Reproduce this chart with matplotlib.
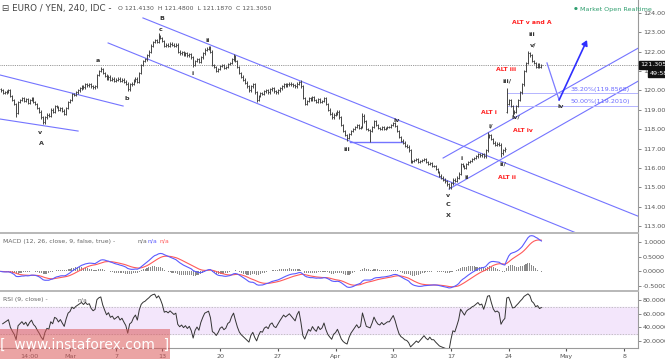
import numpy as np
import matplotlib
matplotlib.use("Agg")
import matplotlib.pyplot as plt
from matplotlib.patches import Rectangle, FancyArrowPatch
import matplotlib.transforms as mtransforms

# ---------------- data (4H EUR/JPY closes) ----------------
closes = [
    120.0, 119.85, 119.9, 119.95, 120.0, 119.7, 119.5, 119.3, 118.85, 119.4,
    119.5, 119.6, 119.45, 119.55, 119.35, 119.5, 119.6, 119.4, 119.3, 119.1,
    118.9, 118.6, 118.35, 118.6, 118.75, 118.7, 119.0, 118.9, 119.2, 119.15,
    119.0, 119.1, 118.95, 118.8, 119.1, 119.4, 119.5, 119.8, 119.75, 119.9,
    120.0, 120.1, 120.2, 120.15, 120.3, 120.25, 120.3, 120.2, 120.15, 120.2,
    120.8, 121.0, 121.1, 120.9, 120.75, 120.6, 120.7, 120.55, 120.6, 120.5,
    120.55, 120.6, 120.5, 120.55, 120.45, 120.35, 120.05, 120.3, 120.35, 120.5,
    120.6, 120.45, 120.9, 121.3, 121.5, 121.6, 121.8, 122.0, 122.3, 122.5,
    122.6, 122.5, 122.8, 122.7, 122.55, 122.3, 122.35, 122.3, 122.4, 122.35,
    122.3, 122.35, 122.0, 121.9, 121.95, 121.85, 121.9, 121.8, 121.85, 121.7,
    121.3, 121.5, 121.6, 121.45, 121.7, 121.9, 122.1, 122.15, 122.2, 122.0,
    121.3, 121.2, 121.0, 121.1, 121.25, 121.3, 121.15, 121.2, 121.35, 121.4,
    121.6, 121.75, 121.5, 121.2, 120.9, 120.7, 120.55, 120.4, 120.2, 120.0,
    120.2, 120.3, 119.9, 119.5, 119.7, 119.85, 119.8, 119.95, 120.0, 119.9,
    120.05, 120.1, 119.95, 119.9, 120.0, 120.1, 120.2, 120.3, 120.25, 120.3,
    120.35, 120.3, 120.25, 120.2, 120.35, 120.45, 120.2, 119.6, 119.3, 119.45,
    119.6, 119.5, 119.65, 119.5, 119.4, 119.55, 119.4, 119.45, 119.6, 119.3,
    119.0, 118.8, 118.6, 118.75, 118.8, 118.9, 118.6, 118.2, 117.9, 117.7,
    117.55, 117.75, 117.9, 118.0, 118.1, 118.2, 118.05, 118.1, 118.7, 118.4,
    118.0, 117.95, 117.9, 118.1, 118.4, 118.2, 118.05, 118.0, 118.1, 118.0,
    118.05, 118.1, 118.1, 118.2, 118.3, 118.15, 117.9, 117.6, 117.4, 117.3,
    117.15, 117.1, 116.9, 116.3, 116.35, 116.4, 116.45, 116.3, 116.35, 116.4,
    116.45, 116.3, 116.2, 116.25, 116.1, 116.1, 115.95, 115.8, 115.6, 115.5,
    115.4, 115.3, 115.15, 115.0, 115.2, 115.4, 115.35, 115.5, 115.7, 116.2,
    116.1, 116.0, 116.2, 116.3, 116.35, 116.45, 116.5, 116.6, 116.7, 116.65,
    116.7, 116.6, 116.9, 117.6, 117.7, 117.5, 117.3, 117.2, 117.25, 117.2,
    116.75, 116.9, 117.0,
    119.3, 119.5, 119.2, 118.85, 118.9, 119.2, 119.5,
    119.9, 120.3, 121.0, 121.4, 121.9, 121.8, 121.5, 121.4, 121.2, 121.35, 121.2, 121.305,
]
first_open = 120.05
open_overrides = {263: 118.9}
high_overrides = {52: 121.2, 82: 122.95, 108: 122.3, 121: 121.85, 155: 120.5,
                  188: 118.85, 253: 117.85, 263: 120.1, 274: 122.05, 275: 122.0}
low_overrides = {8: 118.6, 22: 118.25, 66: 119.95, 100: 121.2, 133: 119.4,
                 180: 117.4, 192: 117.35, 233: 114.9, 260: 116.55, 266: 118.7}
wick = 0.065

tick_pos = [15, 36, 60, 84, 114, 144, 174, 204, 234, 264, 294, 324]
tick_lbl = ["14:00", "Mar", "7", "13", "20", "27", "Apr", "10", "17", "24", "May", "8"]

price_ticks = [113, 114, 115, 116, 117, 118, 119, 120, 121, 122, 123, 124]
macd_ticks = [-0.5, 0.0, 0.5, 1.0]
rsi_ticks = [20, 40, 60, 80]

# trend lines (bar index, price)
blue_lines = [
    [(-0.4, 120.79), (63.6, 119.19)],
    [(-0.4, 118.52), (40.2, 117.90)],
    [(73.9, 123.73), (332.3, 113.47)],
    [(55.8, 122.44), (340.0, 111.00)],
    [(229.9, 116.51), (332.3, 122.23)],
    [(233.0, 114.91), (332.3, 120.53)],
]
hline_iii = [(181.5, 117.34), (209.1, 117.34)]
fib_levels = [119.8568, 119.2010]
fib_labels = ["38.20%(119.8568)", "50.00%(119.2010)"]
fib_start = 263.1
proj_path = [(283.9, 121.41), (290.2, 119.50), (304.7, 122.59)]

wave_labels = [
    ("B", 83.8, 123.68), ("c", 83.3, 123.11), ("a", 50.6, 121.56), ("b", 65.6, 119.60),
    ("ii", 107.7, 122.59), ("i", 99.9, 120.89), ("v", 20.4, 117.85), ("A", 20.9, 117.28),
    ("iii", 180.0, 116.97), ("iv", 205.9, 118.42), ("v", 232.5, 114.60), ("C", 232.5, 114.09),
    ("X", 232.5, 113.57), ("i", 239.7, 116.46), ("ii", 242.4, 115.48), ("i/", 254.8, 118.16),
    ("ii/", 261.0, 116.20), ("iii/", 263.1, 120.48), ("iv/", 267.8, 118.62),
    ("iii", 276.1, 122.90), ("v/", 276.6, 122.33), ("iv", 291.2, 119.14),
]
alt_labels = [
    ("ALT v and A", 276.1, 123.47), ("ALT iii", 262.6, 121.05), ("ALT i", 253.8, 118.88),
    ("ALT iv", 271.4, 117.95), ("ALT ii", 263.1, 115.48),
]
last_price = 121.305

# ---------------- derived OHLC ----------------
c = np.array(closes)
n = len(c)
idx = np.arange(n)
o = np.empty(n)
o[0] = first_open
o[1:] = c[:-1]
for k, v in open_overrides.items():
    o[k] = v
h = np.maximum(o, c) + wick
l = np.minimum(o, c) - wick
for k, v in high_overrides.items():
    h[k] = v
for k, v in low_overrides.items():
    l[k] = v

def ema(x, span):
    a = 2.0 / (span + 1)
    out = np.empty_like(x)
    out[0] = x[0]
    for t in range(1, len(x)):
        out[t] = a * x[t] + (1 - a) * out[t - 1]
    return out

macd = ema(c, 12) - ema(c, 26)
signal = ema(macd, 9)
hist = macd - signal

d = np.diff(c)
up = np.where(d > 0, d, 0.0)
dn = np.where(d < 0, -d, 0.0)
au = np.empty(len(d)); ad = np.empty(len(d))
au[0], ad[0] = (0.09 * 8 + up[0]) / 9, (0.09 * 8 + dn[0]) / 9
for t in range(1, len(d)):
    au[t] = (au[t - 1] * 8 + up[t]) / 9
    ad[t] = (ad[t - 1] * 8 + dn[t]) / 9
rsi = 100 - 100 / (1 + au / ad)

# ---------------- figure ----------------
W, H = 665, 359
fig = plt.figure(figsize=(W / 100, H / 100), dpi=100)
fig.patch.set_facecolor("white")

def fy(px):
    return 1 - px / H

axw = 638 / W
ax = fig.add_axes([0, fy(232), axw, fy(0) - fy(232)])
axm = fig.add_axes([0, fy(290), axw, fy(233) - fy(290)])
axr = fig.add_axes([0, fy(348), axw, fy(291) - fy(348)])

XL = (-0.385, 331.2)
for a in (ax, axm, axr):
    a.set_xlim(*XL)
    for s in ("top", "left", "bottom"):
        a.spines[s].set_visible(False)
    a.spines["right"].set_color("#9a9a9a")
    a.spines["right"].set_linewidth(0.8)
    a.yaxis.tick_right()
    a.tick_params(axis="y", labelsize=4.6, colors="#555555", length=2, width=0.5, pad=1.5)
    a.tick_params(axis="x", length=0, labelbottom=False)
    a.patch.set_alpha(0)

# price panel
ax.set_ylim(112.696, 124.655)
ax.set_yticks(price_ticks)
ax.set_yticklabels([f"{t:.4f}" for t in price_ticks])

for (p0, p1) in blue_lines:
    ax.plot([p0[0], p1[0]], [p0[1], p1[1]], color="#7474ff", lw=0.8, zorder=2)
ax.plot([hline_iii[0][0], hline_iii[1][0]], [hline_iii[0][1], hline_iii[1][1]],
        color="#7474ff", lw=1.0, zorder=2)
for lv, lb in zip(fib_levels, fib_labels):
    ax.plot([fib_start, XL[1]], [lv, lv], color="#b4b4ff", lw=0.7, zorder=2)
    ax.text(327, lv + 0.08, lb, color="#6a6aff", fontsize=4.6, ha="right", va="bottom")

ax.axhline(last_price, color="#777777", lw=0.6, ls=(0, (1, 1.2)), zorder=1)

bar_col = "#454545"
ax.vlines(idx, l, h, color=bar_col, lw=0.7, zorder=3)
ax.hlines(o, idx - 0.5, idx, color=bar_col, lw=0.6, zorder=3)
ax.hlines(c, idx, idx + 0.5, color=bar_col, lw=0.6, zorder=3)

ax.plot([proj_path[0][0], proj_path[1][0]], [proj_path[0][1], proj_path[1][1]],
        color="#7c7cff", lw=0.9, zorder=4)
arr = FancyArrowPatch(proj_path[1], proj_path[2], arrowstyle="-|>,head_length=3,head_width=1.8",
                      color="#2f2fff", lw=1.2, zorder=4, shrinkA=0, shrinkB=0)
ax.add_patch(arr)

for t, xx, yy in wave_labels:
    ax.text(xx, yy, t, fontsize=4.6, fontweight="bold", color="#333333",
            ha="center", va="center", zorder=5)
for t, xx, yy in alt_labels:
    ax.text(xx, yy, t, fontsize=4.4, fontweight="bold", color="#ff2020",
            ha="center", va="center", zorder=5)

# price label boxes on the right axis
trans = mtransforms.blended_transform_factory(ax.transAxes, ax.transData)
ax.text(1.004, last_price, "121.3050", transform=trans, fontsize=4.6, color="white",
        ha="left", va="center", zorder=10, clip_on=False,
        bbox=dict(boxstyle="square,pad=0.25", fc="#111111", ec="#111111"))
ax.text(1.018, last_price - 0.42, "49:58", transform=trans, fontsize=4.6, color="white",
        ha="left", va="center", zorder=10, clip_on=False,
        bbox=dict(boxstyle="square,pad=0.25", fc="#111111", ec="#111111"))

# MACD panel
axm.set_ylim(-0.636, 1.316)
axm.set_yticks(macd_ticks)
axm.set_yticklabels([f"{t:.4f}" for t in macd_ticks])
axm.bar(idx, hist, width=0.55, color="#8a8a8a", zorder=2)
axm.plot(idx, signal, color="#ff5a5a", lw=0.8, zorder=3)
axm.plot(idx, macd, color="#5a5aff", lw=0.8, zorder=3)

# RSI panel
axr.set_ylim(10.4, 92.5)
axr.set_yticks(rsi_ticks)
axr.set_yticklabels([f"{t:.4f}" for t in rsi_ticks])
axr.axhspan(30, 70, color="#f3e6fb", zorder=0)
axr.axhline(70, color="#b0b0b0", lw=0.5, ls=(0, (2, 2)))
axr.axhline(30, color="#b0b0b0", lw=0.5, ls=(0, (2, 2)))
axr.plot(idx[1:], rsi, color="#333333", lw=0.7, zorder=3)
axr.spines["bottom"].set_visible(True)
axr.spines["bottom"].set_color("#9a9a9a")
axr.spines["bottom"].set_linewidth(0.8)
axr.set_xticks(tick_pos)
axr.set_xticklabels(tick_lbl)
axr.tick_params(axis="x", labelbottom=True, labelsize=4.6, colors="#555555", length=2, pad=2)

# panel separators
for ypx in (232.5, 290.5):
    fig.add_artist(plt.Line2D([0, axw], [fy(ypx), fy(ypx)], color="#b8b8b8", lw=1.4,
                              transform=fig.transFigure))

# header texts
fig.text(2 / W, fy(9), "\u229f EURO / YEN, 240, IDC -", fontsize=6.3, color="#444444",
         va="center", ha="left")
fig.text(118 / W, fy(9), "O 121.4130  H 121.4800  L 121.1870  C 121.3050", fontsize=4.4,
         color="#555555", va="center", ha="left")
fig.text(576 / W, fy(9), "\u25cf", fontsize=3.2, color="#2e9e6e", va="center", ha="center")
fig.text(580 / W, fy(9), "Market Open Realtime", fontsize=4.6, color="#2e9e6e",
         va="center", ha="left")
fig.text(3 / W, fy(241), "MACD (12, 26, close, 9, false, true) -", fontsize=4.4,
         color="#666666", va="center", ha="left")
fig.text(137 / W, fy(241), "n/a", fontsize=4.4, color="#666666", va="center", ha="left")
fig.text(148 / W, fy(241), "n/a", fontsize=4.4, color="#5a5aff", va="center", ha="left")
fig.text(159 / W, fy(241), "n/a", fontsize=4.4, color="#ff5a5a", va="center", ha="left")
fig.text(3 / W, fy(300), "RSI (9, close) -", fontsize=4.4, color="#666666",
         va="center", ha="left")
fig.text(77 / W, fy(300), "n/a", fontsize=4.4, color="#666666", va="center", ha="left")

# watermark
fig.add_artist(Rectangle((0, 0), 170 / W, fy(329), transform=fig.transFigure,
                         facecolor=(0.86, 0.35, 0.35, 0.55), edgecolor="none", zorder=20))
fig.text(85 / W, fy(345), "[  www.instaforex.com  ]", fontsize=10, color="white",
         ha="center", va="center", zorder=21)

fig.savefig("out.png", dpi=100)
